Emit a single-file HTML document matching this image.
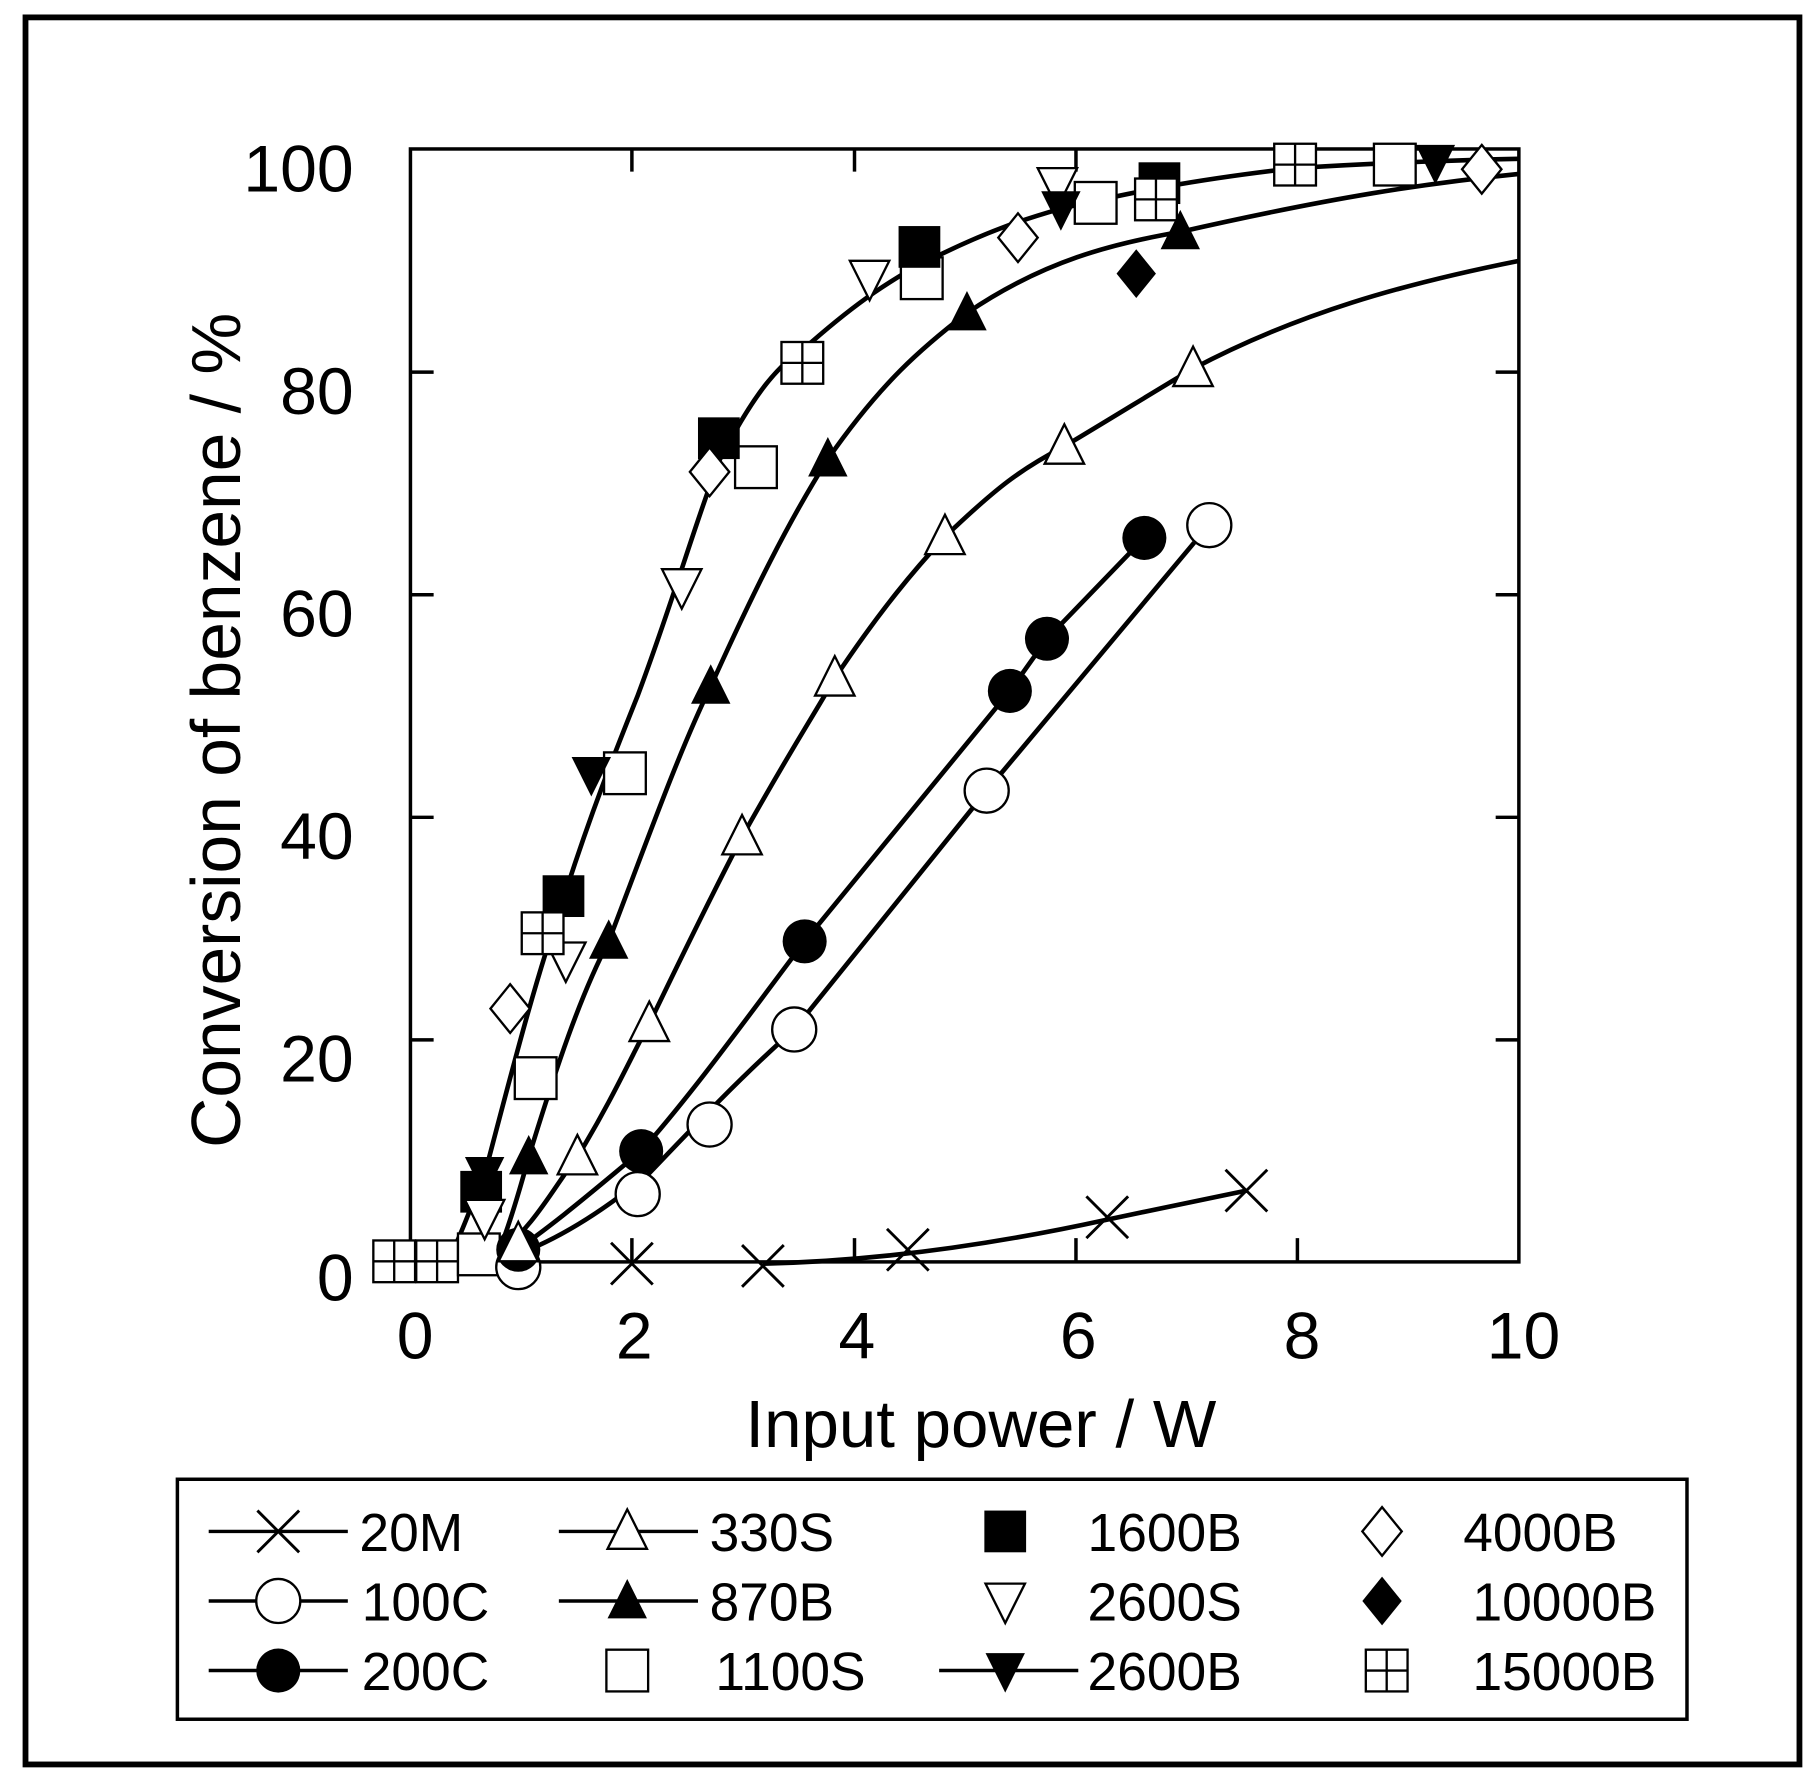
<!DOCTYPE html>
<html><head><meta charset="utf-8"><style>
html,body{margin:0;padding:0;background:#fff;}
svg{display:block;}
text{font-family:"Liberation Sans",Arial,sans-serif;fill:#000;}
</style></head><body>
<svg width="1818" height="1783" viewBox="0 0 1568 1538" preserveAspectRatio="none" xmlns="http://www.w3.org/2000/svg">
<defs>
<g id="sq"><rect x="-18" y="-18" width="36" height="36" fill="#fff" stroke="#000" stroke-width="2"/></g>
<g id="sqf"><rect x="-18" y="-18" width="36" height="36" fill="#000"/></g>
<g id="sq15"><rect x="-18" y="-18" width="36" height="36" fill="#fff" stroke="#000" stroke-width="2"/><line x1="0" y1="-18" x2="0" y2="18" stroke="#000" stroke-width="2"/><line x1="-18" y1="0" x2="18" y2="0" stroke="#000" stroke-width="2"/></g>
<g id="ci"><circle r="19" fill="#fff" stroke="#000" stroke-width="2"/></g>
<g id="cif"><circle r="19" fill="#000"/></g>
<g id="tr"><polygon points="0,-19 -17,15 17,15" fill="#fff" stroke="#000" stroke-width="2"/></g>
<g id="trf"><polygon points="0,-19 -17,15 17,15" fill="#000"/></g>
<g id="dt"><polygon points="0,19 -17,-15 17,-15" fill="#fff" stroke="#000" stroke-width="2"/></g>
<g id="dtf"><polygon points="0,19 -17,-15 17,-15" fill="#000"/></g>
<g id="di"><polygon points="0,-21 17,0 0,21 -17,0" fill="#fff" stroke="#000" stroke-width="2"/></g>
<g id="dif"><polygon points="0,-21 17,0 0,21 -17,0" fill="#000"/></g>
<g id="x"><path d="M-18,-18 L18,18 M-18,18 L18,-18" stroke="#000" stroke-width="2.5"/></g>
</defs>
<rect x="22" y="15" width="1530" height="1507" fill="none" stroke="#000" stroke-width="5"/>
<rect x="354" y="128.5" width="956" height="960" fill="none" stroke="#000" stroke-width="3"/>
<g stroke="#000" stroke-width="3">
<path d="M354,321h20M354,513h20M354,705h20M354,897h20M1310,321h-20M1310,513h-20M1310,705h-20M1310,897h-20"/>
<path d="M545,1088v-20M737,1088v-20M928,1088v-20M1119,1088v-20M545,128v20M737,128v20M928,128v20M1119,128v20"/>
</g>
<g font-size="57" text-anchor="end">
<text x="305" y="165">100</text><text x="305" y="357">80</text><text x="305" y="549">60</text>
<text x="305" y="741">40</text><text x="305" y="933">20</text><text x="305" y="1122">0</text>
</g>
<g font-size="57" text-anchor="middle">
<text x="358" y="1172">0</text><text x="547" y="1172">2</text><text x="739" y="1172">4</text>
<text x="930" y="1172">6</text><text x="1123" y="1172">8</text><text x="1314" y="1172">10</text>
</g>
<text x="846" y="1248" font-size="58" text-anchor="middle">Input power / W</text>
<text transform="translate(207,630) rotate(-90)" font-size="60" text-anchor="middle">Conversion of benzene / %</text>

<g fill="none" stroke="#000" stroke-width="4">
<path d="M658,1090 C750,1088 850,1075 955,1052 L1075,1027"/>
<path d="M420,1090 C470,1078 520,1045 560,1012 C600,970 640,928 685,888 L851,682 L1030,468"/>
<path d="M440,1082 C480,1055 520,1020 553,993 C600,940 650,870 694,812 L871,596 L903,551 L987,464"/>
<path d="M430,1080 C460,1060 480,1020 498,998 C530,945 545,910 560,883 C600,800 620,760 640,722 C680,650 700,620 720,585 C760,525 790,490 815,463 C860,420 880,405 918,385 C960,360 1000,335 1029,318 C1120,270 1210,245 1310,225"/>
<path d="M430,1080 C440,1055 450,1020 456,998 C480,920 500,860 525,812 C560,720 585,650 613,592 C650,510 680,450 714,396 C760,330 795,300 834,270 C900,225 960,210 1018,200 C1150,170 1230,158 1310,150"/>
<path d="M390,1080 C400,1060 410,1030 418,1013 C440,930 460,850 486,775 C510,700 530,650 550,600 C580,520 600,450 620,398 C650,340 670,315 700,295 C740,260 770,240 800,225 C850,200 880,190 915,180 C980,165 1030,155 1117,145 C1200,140 1260,138 1310,137"/>
</g>
<use href="#x" x="545" y="1090"/><use href="#x" x="658" y="1092"/><use href="#x" x="783" y="1078"/><use href="#x" x="955" y="1050"/><use href="#x" x="1075" y="1027"/>
<use href="#sq15" x="340" y="1088"/><use href="#sq15" x="377" y="1088"/>
<use href="#sq" x="413" y="1082"/>
<use href="#ci" x="447" y="1093"/><use href="#ci" x="550" y="1030"/><use href="#ci" x="612" y="970"/><use href="#ci" x="685" y="888"/><use href="#ci" x="851" y="682"/><use href="#ci" x="1043" y="453"/>
<use href="#cif" x="447" y="1078"/><use href="#cif" x="553" y="993"/><use href="#cif" x="694" y="812"/><use href="#cif" x="871" y="596"/><use href="#cif" x="903" y="551"/><use href="#cif" x="987" y="464"/>
<use href="#tr" x="447" y="1073"/><use href="#tr" x="498" y="998"/><use href="#tr" x="560" y="883"/><use href="#tr" x="640" y="722"/><use href="#tr" x="720" y="585"/><use href="#tr" x="815" y="463"/><use href="#tr" x="918" y="385"/><use href="#tr" x="1029" y="318"/>
<use href="#trf" x="456" y="998"/><use href="#trf" x="525" y="812"/><use href="#trf" x="613" y="592"/><use href="#trf" x="714" y="396"/><use href="#trf" x="834" y="270"/><use href="#trf" x="1018" y="200"/>
<use href="#sq" x="462" y="930"/><use href="#sq" x="539" y="667"/><use href="#sq" x="652" y="403"/><use href="#sq" x="795" y="240"/><use href="#sq" x="945" y="175"/><use href="#sq" x="1203" y="142"/>
<use href="#sqf" x="415" y="1028"/><use href="#sqf" x="486" y="773"/><use href="#sqf" x="620" y="378"/><use href="#sqf" x="793" y="213"/><use href="#sqf" x="1000" y="158"/>
<use href="#dt" x="418" y="1050"/><use href="#dt" x="488" y="828"/><use href="#dt" x="588" y="506"/><use href="#dt" x="750" y="240"/><use href="#dt" x="912" y="160"/>
<use href="#dtf" x="418" y="1013"/><use href="#dtf" x="510" y="668"/><use href="#dtf" x="915" y="180"/><use href="#dtf" x="1238" y="140"/>
<use href="#di" x="440" y="870"/><use href="#di" x="612" y="407"/><use href="#di" x="878" y="205"/><use href="#di" x="1278" y="146"/>
<use href="#dif" x="980" y="236"/>
<use href="#sq15" x="468" y="805"/><use href="#sq15" x="692" y="313"/><use href="#sq15" x="1117" y="142"/><use href="#sq15" x="997" y="172"/>

<rect x="153" y="1276" width="1302" height="207" fill="#fff" stroke="#000" stroke-width="3"/>
<g stroke="#000" stroke-width="3" fill="none">
<path d="M180,1321h120M180,1381h120M180,1441h120M482,1321h120M482,1381h120M810,1441h120"/>
</g>
<use href="#x" x="240" y="1321"/><use href="#ci" x="240" y="1381"/><use href="#cif" x="240" y="1441"/>
<use href="#tr" x="541" y="1321"/><use href="#trf" x="541" y="1381"/><use href="#sq" x="541" y="1441"/>
<use href="#sqf" x="867" y="1321"/><use href="#dt" x="867" y="1381"/><use href="#dtf" x="867" y="1441"/>
<use href="#di" x="1192" y="1321"/><use href="#dif" x="1192" y="1381"/><use href="#sq15" x="1196" y="1441"/>
<g font-size="46">
<text x="310" y="1338">20M</text><text x="312" y="1398">100C</text><text x="312" y="1458">200C</text>
<text x="612" y="1338">330S</text><text x="612" y="1398">870B</text><text x="617" y="1458">1100S</text>
<text x="938" y="1338">1600B</text><text x="938" y="1398">2600S</text><text x="938" y="1458">2600B</text>
<text x="1262" y="1338">4000B</text><text x="1270" y="1398">10000B</text><text x="1270" y="1458">15000B</text>
</g>
</svg>
</body></html>
